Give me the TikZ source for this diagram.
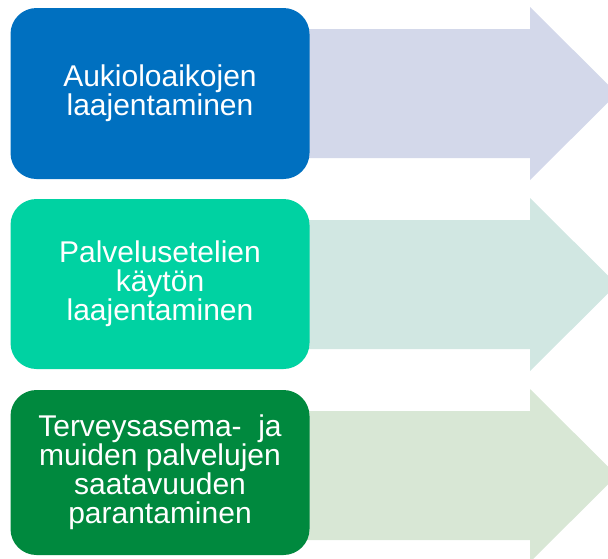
\documentclass[tikz,border=0pt]{standalone}
\usepackage{fontspec}
\setmainfont{Liberation Sans}
\definecolor{boxblue}{HTML}{0070C0}
\definecolor{boxteal}{HTML}{00D2A2}
\definecolor{boxgreen}{HTML}{00893E}
\definecolor{arrowblue}{HTML}{D3D8EA}
\definecolor{arrowteal}{HTML}{D1E7E2}
\definecolor{arrowgreen}{HTML}{D8E7D5}
\begin{document}
\begin{tikzpicture}[x=1pt, y=-1pt,
        box/.style={rounded corners=26pt, minimum width=299pt, inner sep=0pt,
            align=center, text=white, font=\fontsize{30}{29}\selectfont}]
    \useasboundingbox (0, 0) rectangle (608, 558);
    \begin{scope}
        \clip (0, 0) rectangle (608, 558);
        \fill[arrowblue] (300, 29) -- (530, 29) -- (530, 7) -- (617, 93.5) -- (530, 180) -- (530, 158) -- (300, 158) -- cycle;
        \fill[arrowteal] (300, 220) -- (530, 220) -- (530, 198) -- (617, 284.5) -- (530, 371) -- (530, 349) -- (300, 349) -- cycle;
        \fill[arrowgreen] (300, 411) -- (530, 411) -- (530, 389) -- (617, 475.5) -- (530, 562) -- (530, 540) -- (300, 540) -- cycle;
    \end{scope}
    \node[box, fill=boxblue, minimum height=171pt] (auki) at (160, 93.5) {Aukioloaikojen\\laajentaminen};
    \node[box, fill=boxteal, minimum height=170pt] (seteli) at (160, 284) {Palvelusetelien\\käytön\\laajentaminen};
    \node[box, fill=boxgreen, minimum height=165pt] (terveys) at (160, 472.5) {Terveysasema-\ \ ja\\muiden palvelujen\\saatavuuden\\parantaminen};
\end{tikzpicture}
\end{document}
